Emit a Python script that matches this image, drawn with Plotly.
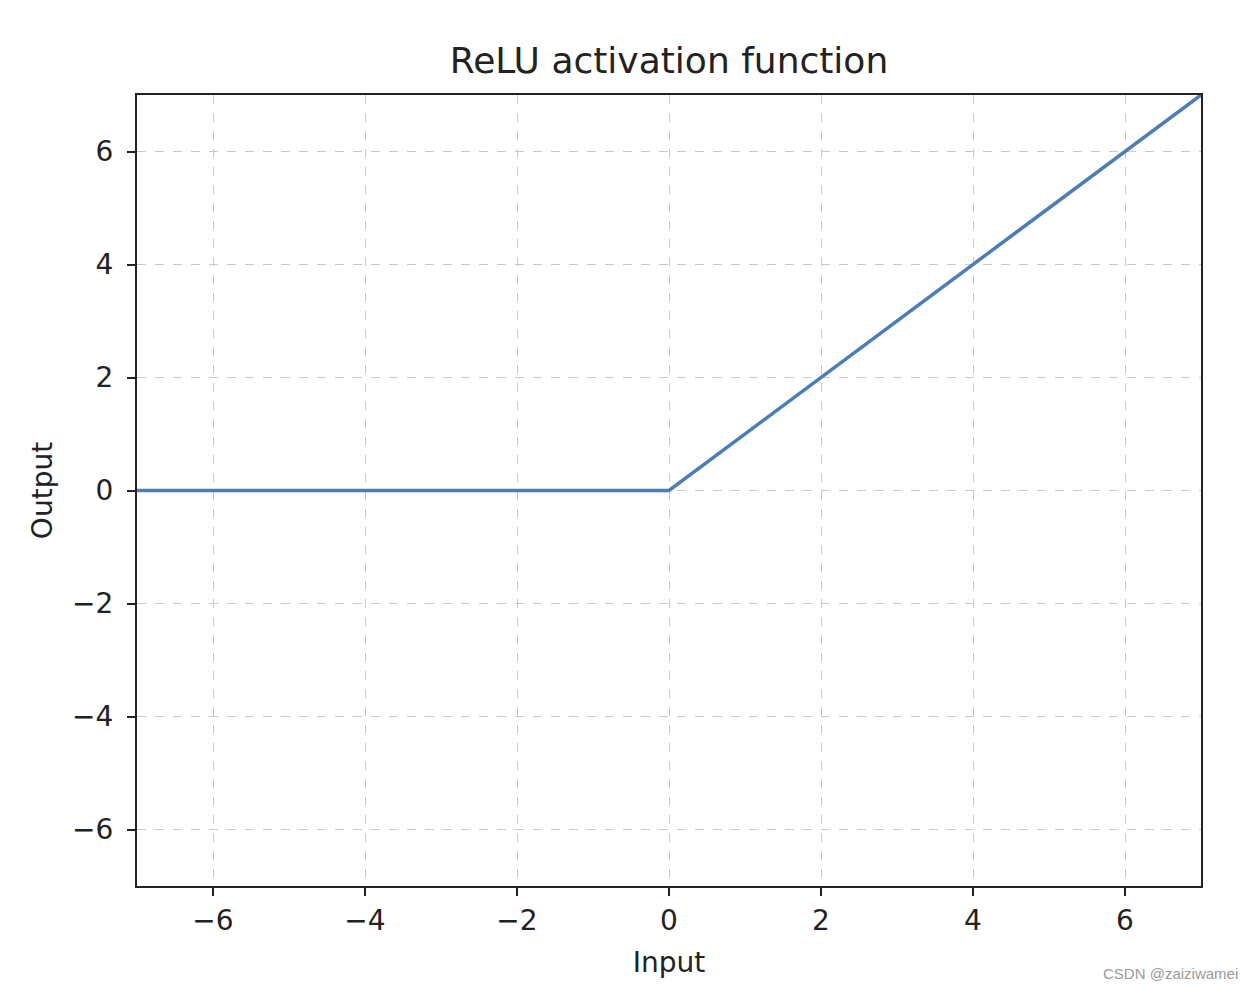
import plotly.graph_objects as go

# Data: ReLU key points (input, output)
x_input = [-7, 0, 7]
y_output = [0, 0, 7]

tick_vals = [-6, -4, -2, 0, 2, 4, 6]
tick_text = ["\u22126", "\u22124", "\u22122", "0", "2", "4", "6"]

FONT = "DejaVu Sans"

fig = go.Figure()
fig.add_trace(go.Scatter(
    x=x_input, y=y_output, mode="lines",
    line=dict(color="#4d7db5", width=3.5),
    showlegend=False,
))

axis_common = dict(
    tickvals=tick_vals, ticktext=tick_text,
    showgrid=True, gridcolor="#c8c8c8", griddash="dash", gridwidth=1,
    zeroline=False,
    showline=True, linecolor="#222222", linewidth=2, mirror=True,
    ticks="outside", ticklen=8, tickwidth=2, tickcolor="#222222",
    tickfont=dict(family=FONT, size=28, color="#222222"),
    range=[-7, 7],
)

fig.update_layout(
    width=1252, height=990,
    paper_bgcolor="white", plot_bgcolor="white",
    margin=dict(l=129, r=59, t=87, b=112),
    title=dict(
        text="ReLU activation function",
        font=dict(family=FONT, size=36, color="#222222"),
        x=661 / 1252, xanchor="center",
        y=1 - 52 / 990, yanchor="middle", yref="container",
    ),
    xaxis=dict(
        **axis_common,
        title=dict(text="Input", font=dict(family=FONT, size=28, color="#222222"), standoff=17),
    ),
    yaxis=dict(
        **axis_common,
        ticklabelstandoff=8,
        title=dict(text="Output", font=dict(family=FONT, size=28, color="#222222"), standoff=11),
    ),
)

fig.add_annotation(
    text="CSDN @zaiziwamei", xref="paper", yref="paper",
    x=1 + (1240 - 1201) / (1201 - 137), y=-(974 - 886) / (886 - 95),
    xanchor="right", yanchor="middle", showarrow=False,
    font=dict(family="Liberation Sans", size=15, color="#9a9a9a"),
)

fig.write_html("out.html")
